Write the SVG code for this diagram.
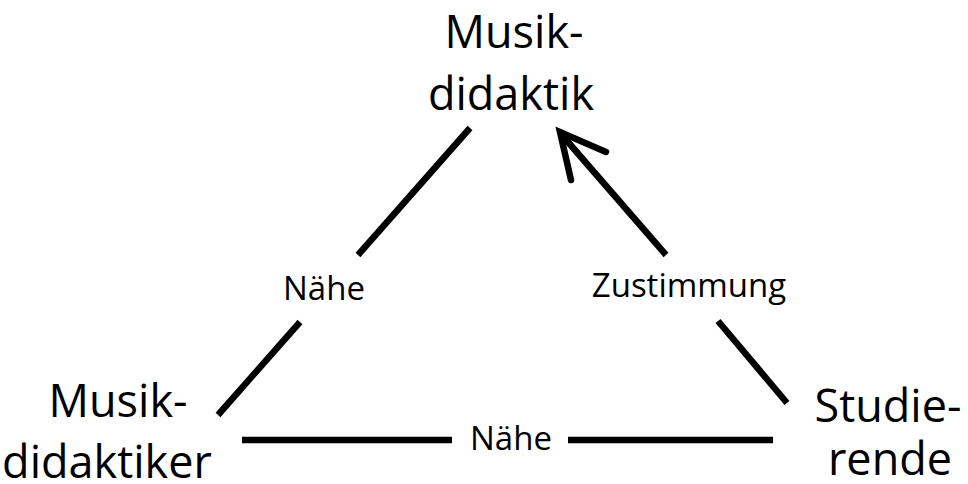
<svg xmlns="http://www.w3.org/2000/svg" width="968" height="484" viewBox="0 0 968 484">
<style>
.node{font-family:"Open Sans","Noto Sans",sans-serif;font-size:45px;fill:#000;text-anchor:middle}
.lbl{font-family:"Open Sans","Noto Sans",sans-serif;font-size:33px;fill:#000;text-anchor:middle}
.ln{stroke:#000;stroke-width:6.5;fill:none;stroke-linecap:butt}
.ah{stroke:#000;stroke-width:6.5;fill:none;stroke-linecap:round;stroke-linejoin:miter}
</style>
<rect width="968" height="484" fill="#fff"/>
<g id="node-musikdidaktik">
<text class="node" x="514" y="48">Musik-</text>
<text class="node" x="511" y="110">didaktik</text>
</g>
<g id="node-musikdidaktiker">
<text class="node" x="118" y="417">Musik-</text>
<text class="node" x="107" y="478">didaktiker</text>
</g>
<g id="node-studierende">
<text class="node" x="888" y="422">Studie-</text>
<text class="node" x="890" y="475">rende</text>
</g>
<g id="connectors">
<line class="ln" x1="470" y1="128" x2="358" y2="255"/>
<line class="ln" x1="300" y1="322" x2="218" y2="415"/>
<text class="lbl" x="324" y="300">Nähe</text>
<line class="ln" x1="242" y1="440" x2="452" y2="440"/>
<line class="ln" x1="568" y1="440" x2="773" y2="440"/>
<text class="lbl" x="511" y="450">Nähe</text>
<line class="ln" x1="561" y1="134" x2="666" y2="255"/>
<line class="ln" x1="718" y1="321" x2="787" y2="403"/>
<polyline class="ah" points="606,152 560,132 571,180"/>
<text class="lbl" x="689" y="297">Zustimmung</text>
</g>
</svg>
